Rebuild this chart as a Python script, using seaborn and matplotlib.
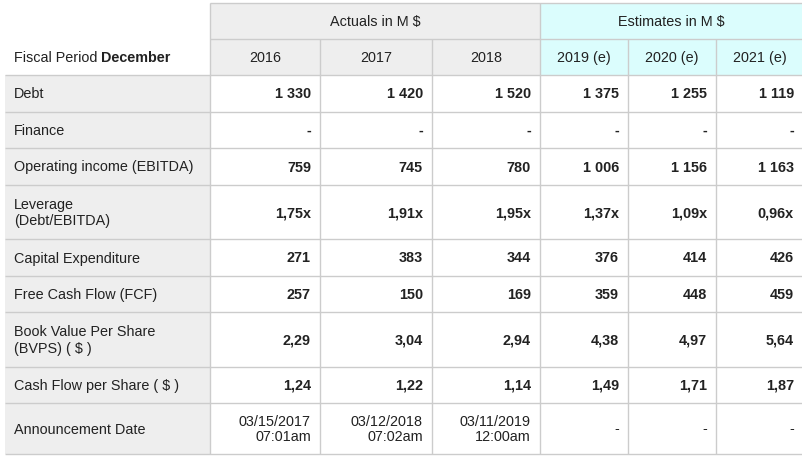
import matplotlib
matplotlib.use("Agg")
import matplotlib.pyplot as plt
import seaborn as sns

# table content
periods = ["2016", "2017", "2018", "2019 (e)", "2020 (e)", "2021 (e)"]
groups = ["Actuals in M $", "Estimates in M $"]
row_labels = ["Debt", "Finance", "Operating income (EBITDA)", "Leverage\n(Debt/EBITDA)",
              "Capital Expenditure", "Free Cash Flow (FCF)", "Book Value Per Share\n(BVPS) ( $ )",
              "Cash Flow per Share ( $ )", "Announcement Date"]
debt = [1330, 1420, 1520, 1375, 1255, 1119]
finance = [None, None, None, None, None, None]
ebitda = [759, 745, 780, 1006, 1156, 1163]
leverage = [1.75, 1.91, 1.95, 1.37, 1.09, 0.96]
capex = [271, 383, 344, 376, 414, 426]
fcf = [257, 150, 169, 359, 448, 459]
bvps = [2.29, 3.04, 2.94, 4.38, 4.97, 5.64]
cfps = [1.24, 1.22, 1.14, 1.49, 1.71, 1.87]
announce = ["03/15/2017\n07:01am", "03/12/2018\n07:02am", "03/11/2019\n12:00am", None, None, None]


def fmt_int(v):
    return "-" if v is None else f"{v:,}".replace(",", " ")


def fmt_dec(v, suffix=""):
    return "-" if v is None else f"{v:.2f}".replace(".", ",") + suffix


rows = [
    [fmt_int(v) for v in debt],
    [fmt_int(v) for v in finance],
    [fmt_int(v) for v in ebitda],
    [fmt_dec(v, "x") for v in leverage],
    [fmt_int(v) for v in capex],
    [fmt_int(v) for v in fcf],
    [fmt_dec(v) for v in bvps],
    [fmt_dec(v) for v in cfps],
    ["-" if v is None else v for v in announce],
]
bold_rows = [True] * 8 + [False]

# layout in pixels
col_edges = [5, 210, 320, 432, 540, 628, 716, 810]
row_edges = [75, 112, 148, 185, 239, 276, 312, 367, 403, 454]
head_top, head_mid, head_bot = 3, 39, 75

grey = "#eeeeee"
cyan = "#dbfdfd"
line = "#cccccc"
txt = "#222222"

sns.set_theme(style="white")
plt.rcParams["font.family"] = ["Liberation Sans", "DejaVu Sans"]

fig = plt.figure(figsize=(8.03, 4.67), dpi=100)
ax = fig.add_axes([0, 0, 1, 1])
ax.set_xlim(0, 803)
ax.set_ylim(467, 0)
ax.axis("off")

fs = 10.4

# header backgrounds
ax.fill_between([col_edges[1], col_edges[4]], head_top, head_bot, color=grey, lw=0)
ax.fill_between([col_edges[4], col_edges[7]], head_top, head_bot, color=cyan, lw=0)
# label column background
ax.fill_between([col_edges[0], col_edges[1]], row_edges[0], row_edges[-1], color=grey, lw=0)

# grid lines
ax.hlines(head_top, col_edges[1], col_edges[-1], color=line, lw=1)
ax.hlines(head_mid, col_edges[1], col_edges[-1], color=line, lw=1)
for y in row_edges:
    ax.hlines(y, col_edges[0], col_edges[-1], color=line, lw=1)
ax.vlines(col_edges[1], head_top, row_edges[-1], color=line, lw=1)
ax.vlines(col_edges[4], head_top, row_edges[-1], color=line, lw=1)
for x in col_edges[2:7]:
    if x != col_edges[4]:
        ax.vlines(x, head_mid, row_edges[-1], color=line, lw=1)

# group headers
ax.text((col_edges[1] + col_edges[4]) / 2, (head_top + head_mid) / 2 + 1, groups[0],
        ha="center", va="center", fontsize=fs, color=txt)
ax.text((col_edges[4] + 803) / 2, (head_top + head_mid) / 2 + 1, groups[1],
        ha="center", va="center", fontsize=fs, color=txt)

# period headers
for i, p in enumerate(periods):
    cx = (col_edges[i + 1] + min(col_edges[i + 2], 803)) / 2
    ax.text(cx, (head_mid + head_bot) / 2 + 1, p, ha="center", va="center", fontsize=fs, color=txt)

ax.text(14, (head_mid + head_bot) / 2 + 1, "Fiscal Period ", ha="left", va="center", fontsize=fs, color=txt)
t = ax.text(14, (head_mid + head_bot) / 2 + 1, "Fiscal Period ", ha="left", va="center",
            fontsize=fs, color="none")
fig.canvas.draw()
bb = t.get_window_extent()
x_bold = ax.transData.inverted().transform((bb.x1, 0))[0]
ax.text(x_bold, (head_mid + head_bot) / 2 + 1, "December", ha="left", va="center",
        fontsize=fs, color=txt, fontweight="bold")

# body
for r, (label, vals) in enumerate(zip(row_labels, rows)):
    cy = (row_edges[r] + row_edges[r + 1]) / 2 + 1
    ax.text(14, cy, label, ha="left", va="center", fontsize=fs, color=txt, linespacing=1.25)
    for c, v in enumerate(vals):
        right = min(col_edges[c + 2], 803) - 9
        ax.text(right, cy, v, ha="right", va="center", fontsize=fs, color=txt,
                fontweight="bold" if bold_rows[r] else "normal", linespacing=1.1)

fig.savefig("out.png", dpi=100)
